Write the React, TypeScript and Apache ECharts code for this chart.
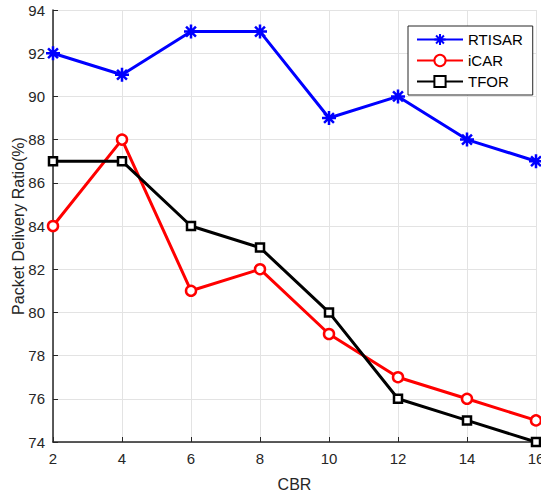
import React, { useEffect, useRef } from "react";
import * as echarts from "echarts";

const categories = [2, 4, 6, 8, 10, 12, 14, 16];
const rtisar = [92, 91, 93, 93, 89, 90, 88, 87];
const icar = [84, 88, 81, 82, 79, 77, 76, 75];
const tfor = [87, 87, 84, 83, 80, 76, 75, 74];

const asterisk =
  "path://M-1.8,-10L1.8,-10L1.8,10L-1.8,10Z M-10,-1.8L10,-1.8L10,1.8L-10,1.8Z M-8.3,-5.8L-5.8,-8.3L8.3,5.8L5.8,8.3Z M5.8,-8.3L8.3,-5.8L-5.8,8.3L-8.3,5.8Z";

export default function App() {
  const ref = useRef<HTMLDivElement>(null);
  useEffect(() => {
    if (!ref.current) return;
    const chart = echarts.init(ref.current, undefined, { renderer: "svg" });
    const font = "Arial, 'Liberation Sans', sans-serif";
    const mk = (arr: number[]) => categories.map((c, i) => [c, arr[i]]);
    chart.setOption({
      animation: false,
      backgroundColor: "#ffffff",
      textStyle: { fontFamily: font },
      grid: { left: 53, right: 5, top: 10, bottom: 55, containLabel: false, outerBoundsMode: "none" },
      legend: {
        orient: "vertical",
        left: 408,
        top: 26,
        width: 112,
        itemGap: 6,
        itemWidth: 46,
        itemHeight: 14,
        padding: [6, 10, 6, 8],
        borderColor: "#262626",
        borderWidth: 1,
        backgroundColor: "#fff",
        textStyle: { fontSize: 15, color: "#000", fontFamily: font },
        data: ["RTISAR", "iCAR", "TFOR"],
      },
      xAxis: {
        type: "value",
        min: 2,
        max: 16,
        interval: 2,
        name: "CBR",
        nameLocation: "middle",
        nameGap: 34,
        nameMoveOverlap: false,
        nameTextStyle: { fontSize: 16, color: "#262626", fontFamily: font },
        axisLine: { lineStyle: { color: "#262626", width: 1.5 } },
        axisTick: { inside: true, length: 5, lineStyle: { color: "#262626" } },
        axisLabel: { fontSize: 15, color: "#262626", margin: 9, fontFamily: font },
        splitLine: { show: true, lineStyle: { color: "#e3e3e3", width: 1 } },
      },
      yAxis: {
        type: "value",
        min: 74,
        max: 94,
        interval: 2,
        name: "Packet Delivery Ratio(%)",
        nameLocation: "middle",
        nameGap: 27,
        nameMoveOverlap: false,
        nameTextStyle: { fontSize: 16, color: "#262626", fontFamily: font },
        axisLine: { show: true, lineStyle: { color: "#262626", width: 1.5 } },
        axisTick: { show: true, inside: true, length: 5, lineStyle: { color: "#262626" } },
        axisLabel: { fontSize: 15, color: "#262626", margin: 8, fontFamily: font },
        splitLine: { show: true, lineStyle: { color: "#e3e3e3", width: 1 } },
      },
      series: [
        {
          name: "RTISAR",
          type: "line",
          data: mk(rtisar),
          color: "#0000ff",
          symbol: asterisk,
          symbolSize: 14,
          lineStyle: { width: 3, color: "#0000ff" },
          itemStyle: { color: "#0000ff" },
        },
        {
          name: "iCAR",
          type: "line",
          data: mk(icar),
          color: "#ff0000",
          symbol: "circle",
          symbolSize: 10,
          lineStyle: { width: 3, color: "#ff0000" },
          itemStyle: { color: "#fff", borderColor: "#ff0000", borderWidth: 2.5 },
        },
        {
          name: "TFOR",
          type: "line",
          data: mk(tfor),
          color: "#000000",
          symbol: "rect",
          symbolSize: 8,
          lineStyle: { width: 3, color: "#000" },
          itemStyle: { color: "#fff", borderColor: "#000", borderWidth: 2.5 },
        },
      ],
    });
    return () => chart.dispose();
  }, []);
  return <div ref={ref} style={{ width: 541, height: 497, position: "absolute", left: 0, top: 0 }} />;
}
